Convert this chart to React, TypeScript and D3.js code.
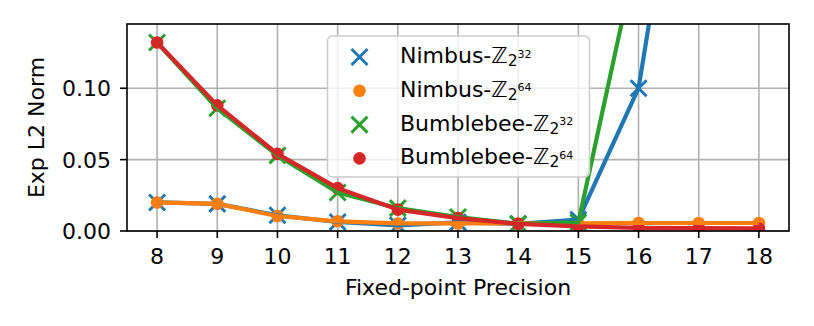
import React, { useRef, useEffect } from 'react';
import * as d3 from 'd3';

// Fixed-point precision (x axis)
const precisions = [8, 9, 10, 11, 12, 13, 14, 15, 16, 17, 18];

// Exp L2 norm per series
const nimbus32 = [0.020, 0.019, 0.011, 0.0063, 0.004, 0.006, 0.005, 0.008, 0.100, 0.36, 0.60];
const nimbus64 = [0.020, 0.019, 0.0105, 0.0068, 0.0053, 0.0053, 0.0053, 0.0053, 0.0056, 0.0056, 0.0056];
const bumblebee32 = [0.132, 0.086, 0.053, 0.027, 0.016, 0.0098, 0.005, 0.006, 0.20, 0.50, 0.80];
const bumblebee64 = [0.132, 0.088, 0.054, 0.030, 0.015, 0.009, 0.005, 0.0033, 0.0022, 0.002, 0.0018];

const yTicks = [0, 0.05, 0.1];

const series = [
  { name: 'Nimbus-', exp: '32', values: nimbus32, color: '#1f77b4', marker: 'x' },
  { name: 'Nimbus-', exp: '64', values: nimbus64, color: '#ff7f0e', marker: 'o' },
  { name: 'Bumblebee-', exp: '32', values: bumblebee32, color: '#2ca02c', marker: 'x' },
  { name: 'Bumblebee-', exp: '64', values: bumblebee64, color: '#d62728', marker: 'o' },
];

const App = () => {
  const chartRef = useRef<HTMLDivElement>(null);

  useEffect(() => {
    document.body.style.margin = '0';

    const width = 814;
    const height = 326;
    const margin = { left: 127, top: 24, right: 25, bottom: 95 };
    const font = 'DejaVu Sans';
    const fs = 22;

    d3.select(chartRef.current).select('svg').remove();

    const svg = d3.select(chartRef.current)
      .append('svg')
      .attr('width', width)
      .attr('height', height)
      .style('display', 'block')
      .style('font-family', font);

    const x = d3.scaleLinear().domain([7.5, 18.5]).range([margin.left, width - margin.right]);
    const y = d3.scaleLinear().domain([0, 0.145]).range([height - margin.bottom, margin.top]);

    const [x0, x1] = x.range();
    const [y0, y1] = y.range();

    svg.append('defs').append('clipPath').attr('id', 'plot-clip')
      .append('rect')
      .attr('x', x0).attr('y', y1)
      .attr('width', x1 - x0).attr('height', y0 - y1);

    // Grid
    const grid = svg.append('g').attr('stroke', '#b0b0b0').attr('stroke-width', 1.6);
    grid.selectAll('.gx').data(precisions).enter().append('line')
      .attr('x1', d => x(d)).attr('x2', d => x(d))
      .attr('y1', y0).attr('y2', y1);
    grid.selectAll('.gy').data(yTicks).enter().append('line')
      .attr('x1', x0).attr('x2', x1)
      .attr('y1', d => y(d)).attr('y2', d => y(d));

    const plot = svg.append('g').attr('clip-path', 'url(#plot-clip)');
    const line = d3.line<number>()
      .x((_, i) => x(precisions[i]))
      .y(d => y(d));

    const xPath = (s: number) => `M${-s},${-s}L${s},${s}M${-s},${s}L${s},${-s}`;

    // Scatter markers sit under the lines
    series.forEach(s => {
      const pts = plot.selectAll(null)
        .data(s.values)
        .enter();
      if (s.marker === 'x') {
        pts.append('path')
          .attr('transform', (d, i) => `translate(${x(precisions[i])},${y(d)})`)
          .attr('d', xPath(8))
          .attr('stroke', s.color)
          .attr('stroke-width', 3);
      } else {
        pts.append('circle')
          .attr('cx', (_, i) => x(precisions[i]))
          .attr('cy', d => y(d))
          .attr('r', 6.3)
          .attr('fill', s.color);
      }
    });

    series.forEach(s => {
      plot.append('path')
        .attr('d', line(s.values))
        .attr('fill', 'none')
        .attr('stroke', s.color)
        .attr('stroke-width', 4.2)
        .attr('stroke-linejoin', 'round');
    });

    // Spines
    svg.append('rect')
      .attr('x', x0).attr('y', y1)
      .attr('width', x1 - x0).attr('height', y0 - y1)
      .attr('fill', 'none')
      .attr('stroke', '#000')
      .attr('stroke-width', 1.6);

    // X ticks
    const xt = svg.append('g');
    xt.selectAll('line').data(precisions).enter().append('line')
      .attr('x1', d => x(d)).attr('x2', d => x(d))
      .attr('y1', y0).attr('y2', y0 + 7)
      .attr('stroke', '#000').attr('stroke-width', 1.6);
    xt.selectAll('text').data(precisions).enter().append('text')
      .attr('x', d => x(d)).attr('y', y0 + 33)
      .attr('text-anchor', 'middle')
      .attr('font-size', fs)
      .text(d => d);

    // Y ticks
    const yt = svg.append('g');
    yt.selectAll('line').data(yTicks).enter().append('line')
      .attr('x1', x0 - 7).attr('x2', x0)
      .attr('y1', d => y(d)).attr('y2', d => y(d))
      .attr('stroke', '#000').attr('stroke-width', 1.6);
    yt.selectAll('text').data(yTicks).enter().append('text')
      .attr('x', x0 - 16).attr('y', d => y(d) + 8)
      .attr('text-anchor', 'end')
      .attr('font-size', fs)
      .text(d => d3.format('.2f')(d));

    // Axis labels
    svg.append('text')
      .attr('x', (x0 + x1) / 2).attr('y', 295)
      .attr('text-anchor', 'middle')
      .attr('font-size', fs)
      .text('Fixed-point Precision');
    svg.append('text')
      .attr('transform', `translate(44,${(y0 + y1) / 2}) rotate(-90)`)
      .attr('text-anchor', 'middle')
      .attr('font-size', fs)
      .text('Exp L2 Norm');

    // Legend
    const lg = svg.append('g');
    lg.append('rect')
      .attr('x', 327.5).attr('y', 36)
      .attr('width', 262).attr('height', 141)
      .attr('rx', 5)
      .attr('fill', 'rgba(255,255,255,0.8)')
      .attr('stroke', '#cccccc')
      .attr('stroke-width', 1.6);

    series.forEach((s, i) => {
      const cy = 57 + i * 33.8;
      if (s.marker === 'x') {
        lg.append('path')
          .attr('transform', `translate(359.5,${cy})`)
          .attr('d', xPath(8))
          .attr('stroke', s.color)
          .attr('stroke-width', 3);
      } else {
        lg.append('circle')
          .attr('cx', 359.5).attr('cy', cy).attr('r', 6.3)
          .attr('fill', s.color);
      }
      const t = lg.append('text')
        .attr('x', 400).attr('y', cy + 6)
        .attr('font-size', fs);
      t.append('tspan').text(s.name);
      t.append('tspan').text('\u2124');
      t.append('tspan').attr('font-size', 15.5).attr('dy', 3).text('2');
      t.append('tspan').attr('font-size', 11).attr('dy', -8.5).text(s.exp);
    });
  }, []);

  return <div ref={chartRef}></div>;
};

export default App;
